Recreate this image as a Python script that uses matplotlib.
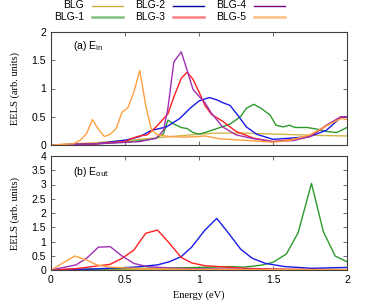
import matplotlib
matplotlib.use("Agg")
import matplotlib.pyplot as plt
from matplotlib.lines import Line2D

names = ["BLG", "BLG-1", "BLG-2", "BLG-3", "BLG-4", "BLG-5"]
colors = ["#d2b64a", "#2e9a2e", "#1a1ae6", "#ff2020", "#a12fb5", "#ffa040"]
key_colors = ["#c8b040", "#80c080", "#0000a0", "#ff8080", "#800080", "#ffc080"]
key_widths = [1.0, 1.8, 1.0, 1.8, 1.0, 1.8]

# panel (a) E_in
ein_x = [
    [0, 0.3, 0.6, 0.9, 1.1, 1.3, 1.55, 1.8, 2.0],
    [0, 0.3, 0.5, 0.65, 0.71, 0.76, 0.79, 0.83, 0.88, 0.92, 0.96, 1.0, 1.04, 1.12,
     1.21, 1.28, 1.32, 1.37, 1.42, 1.48, 1.52, 1.57, 1.61, 1.65, 1.73, 1.8, 1.86, 1.93, 2.0],
    [0, 0.3, 0.51, 0.6, 0.68, 0.78, 0.87, 0.94, 1.0, 1.07, 1.12, 1.16, 1.21, 1.27,
     1.32, 1.39, 1.5, 1.61, 1.75, 1.86, 1.96, 2.0],
    [0, 0.3, 0.5, 0.56, 0.6, 0.65, 0.71, 0.79, 0.83, 0.88, 0.92, 0.96, 1.0, 1.04,
     1.085, 1.16, 1.25, 1.37, 1.5, 1.64, 1.75, 1.86, 1.96, 2.0],
    [0, 0.3, 0.6, 0.71, 0.76, 0.79, 0.83, 0.88, 0.92, 0.96, 1.04, 1.085, 1.16, 1.25,
     1.37, 1.5, 1.64, 1.75, 1.86, 1.96, 2.0],
    [0, 0.15, 0.2, 0.24, 0.28, 0.32, 0.36, 0.4, 0.44, 0.48, 0.52, 0.56, 0.6, 0.64,
     0.68, 0.72, 0.8, 0.9, 1.0, 1.04, 1.14, 1.32, 1.5, 1.61, 1.75, 1.86, 1.96, 2.0],
]
ein_y = [
    [0, 0.04, 0.1, 0.17, 0.21, 0.21, 0.19, 0.17, 0.16],
    [0, 0.02, 0.05, 0.09, 0.12, 0.2, 0.44, 0.37, 0.31, 0.29, 0.22, 0.19, 0.22, 0.29,
     0.37, 0.5, 0.65, 0.72, 0.65, 0.53, 0.35, 0.32, 0.35, 0.31, 0.31, 0.28, 0.24, 0.22, 0.31],
    [0, 0.02, 0.09, 0.15, 0.26, 0.32, 0.47, 0.65, 0.78, 0.84, 0.8, 0.75, 0.7, 0.5,
     0.32, 0.19, 0.1, 0.12, 0.15, 0.26, 0.49, 0.5],
    [0, 0.02, 0.06, 0.13, 0.16, 0.18, 0.32, 0.55, 0.85, 1.18, 1.29, 1.16, 0.94, 0.7,
     0.54, 0.42, 0.24, 0.12, 0.06, 0.1, 0.15, 0.34, 0.5, 0.5],
    [0, 0.02, 0.06, 0.12, 0.26, 0.65, 1.47, 1.65, 1.32, 0.98, 0.75, 0.56, 0.32, 0.18,
     0.11, 0.06, 0.08, 0.15, 0.35, 0.5, 0.5],
    [0, 0.02, 0.09, 0.2, 0.45, 0.28, 0.15, 0.19, 0.29, 0.58, 0.66, 0.94, 1.32, 0.7,
     0.26, 0.18, 0.15, 0.14, 0.15, 0.16, 0.11, 0.08, 0.05, 0.08, 0.18, 0.34, 0.47, 0.45],
]

# panel (b) E_out
eout_x = [
    [0, 0.5, 1.0, 1.5, 2.0],
    [0, 0.5, 0.9, 1.1, 1.2, 1.3, 1.42, 1.5, 1.59, 1.67, 1.76, 1.84, 1.92, 2.0],
    [0, 0.3, 0.56, 0.72, 0.8, 0.88, 0.95, 1.04, 1.12, 1.2, 1.28, 1.36, 1.45, 1.58, 1.76, 2.0],
    [0, 0.17, 0.31, 0.4, 0.48, 0.56, 0.64, 0.72, 0.8, 0.88, 0.95, 1.04, 1.13, 1.31, 1.6, 2.0],
    [0, 0.17, 0.24, 0.32, 0.4, 0.48, 0.56, 0.65, 0.8, 1.0, 1.5, 2.0],
    [0, 0.16, 0.24, 0.31, 0.4, 0.6, 1.0, 2.0],
]
eout_y = [
    [0, 0.01, 0.02, 0.02, 0.02],
    [0, 0.05, 0.08, 0.1, 0.12, 0.1, 0.17, 0.27, 0.56, 1.31, 3.04, 1.35, 0.49, 0.29],
    [0, 0.04, 0.1, 0.18, 0.29, 0.47, 0.8, 1.4, 1.81, 1.29, 0.74, 0.41, 0.23, 0.12, 0.06, 0.09],
    [0, 0.05, 0.14, 0.2, 0.41, 0.7, 1.29, 1.4, 0.94, 0.44, 0.25, 0.15, 0.12, 0.06, 0.02, 0.01],
    [0, 0.18, 0.41, 0.8, 0.82, 0.49, 0.23, 0.12, 0.07, 0.04, 0.02, 0.01],
    [0, 0.49, 0.35, 0.18, 0.1, 0.05, 0.02, 0.01],
]

plt.rcParams["font.family"] = ["Liberation Sans", "DejaVu Sans"]
plt.rcParams["font.size"] = 7.5

W, H = 374, 306
fig = plt.figure(figsize=(W / 100, H / 100), dpi=100)
ax1 = fig.add_axes([51 / W, 1 - 145 / H, 296 / W, 113 / H])
ax2 = fig.add_axes([51 / W, 1 - 270 / H, 296 / W, 114 / H])

for i in range(len(names)):
    ax1.plot(ein_x[i], ein_y[i], color=colors[i], lw=1.0)
    ax2.plot(eout_x[i], eout_y[i], color=colors[i], lw=1.0)

for ax in (ax1, ax2):
    ax.set_xlim(0, 2)
    ax.set_xticks([0, 0.5, 1, 1.5, 2])
    ax.set_xticklabels(["0", "0.5", "1", "1.5", "2"])
    ax.tick_params(direction="in", top=True, right=True, length=3, width=0.6, color="#555555")
    for s in ax.spines.values():
        s.set_color("#404040")
        s.set_linewidth(0.8)
    ax.set_ylabel("EELS (arb. units)", family="Liberation Serif", fontsize=7.5)
    ax.yaxis.set_label_coords(-0.105, 0.5)

ax1.set_ylim(0, 2)
ax1.set_yticks([0, 0.5, 1, 1.5, 2])
ax1.set_yticklabels(["0", "0.5", "1", "1.5", "2"])
ax1.tick_params(labelbottom=False)
ax2.set_ylim(0, 4)
ax2.set_yticks([0, 0.5, 1, 1.5, 2, 2.5, 3, 3.5, 4])
ax2.set_yticklabels(["0", "0.5", "1", "1.5", "2", "2.5", "3", "3.5", "4"])
ax2.set_xlabel("Energy (eV)", family="Liberation Serif", fontsize=7.5)

ax1.text(0.075, 0.88, r"(a) E$_{\mathrm{in}}$", transform=ax1.transAxes, va="center")
ax2.text(0.075, 0.86, r"(b) E$_{\mathrm{out}}$", transform=ax2.transAxes, va="center")

# key: three columns, label then line
col_text_right = [84, 165, 246]
row_y = [5.5, 16.5]
for i, name in enumerate(names):
    c, r = i // 2, i % 2
    y = 1 - row_y[r] / H
    fig.text(col_text_right[c] / W, y, name, ha="right", va="center", fontsize=7.5)
    x0 = (col_text_right[c] + 8) / W
    x1 = (col_text_right[c] + 39) / W
    fig.add_artist(Line2D([x0, x1], [y, y], color=key_colors[i], lw=key_widths[i],
                          transform=fig.transFigure))

fig.savefig("out.png", dpi=100)
